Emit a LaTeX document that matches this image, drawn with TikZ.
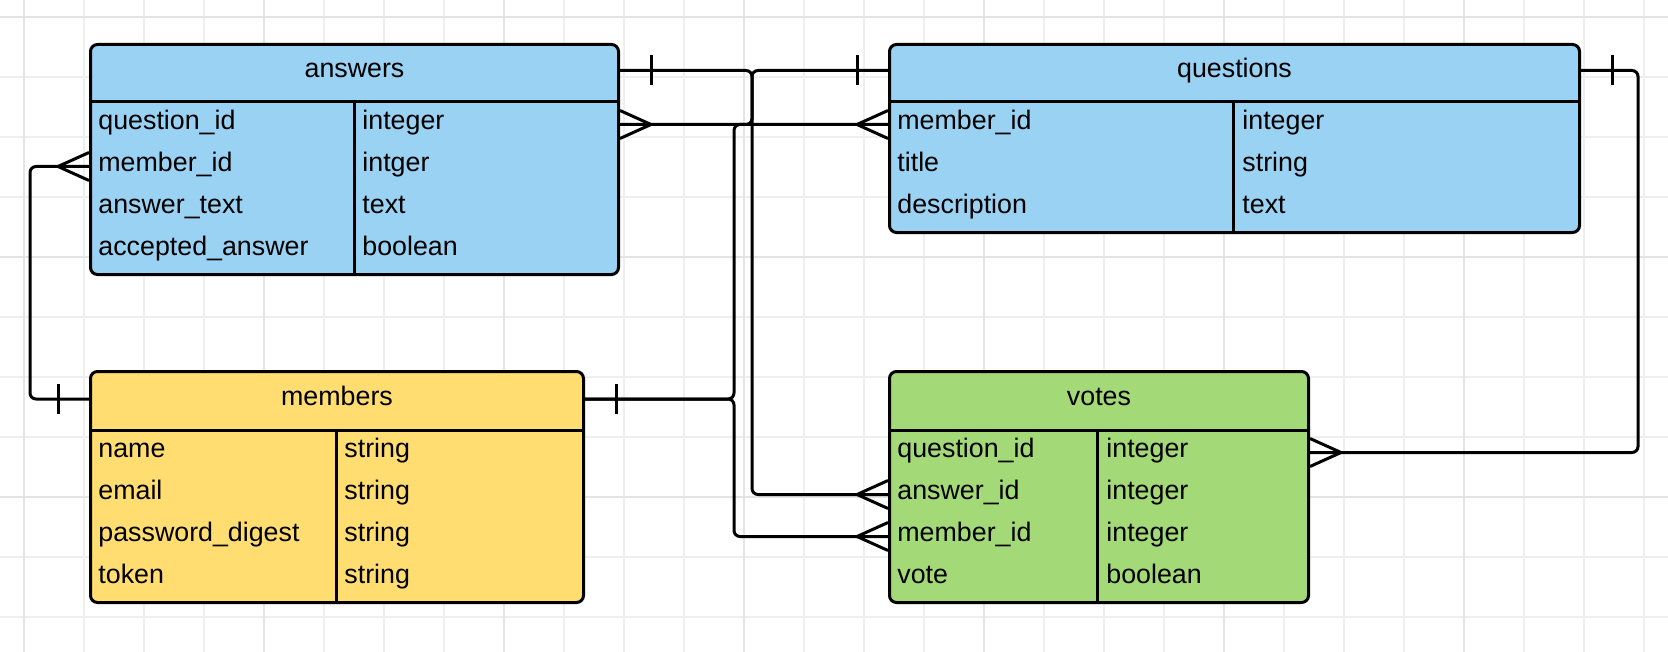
\documentclass[tikz,border=0pt]{standalone}
\usepackage{fontspec}
\setmainfont{Liberation Sans}
\usetikzlibrary{calc,decorations.markings}
\definecolor{tblue}{RGB}{154,210,243}
\definecolor{tyellow}{RGB}{255,221,113}
\definecolor{tgreen}{RGB}{164,217,120}
\definecolor{gminor}{RGB}{239,239,239}
\definecolor{gmajor}{RGB}{228,228,228}

\begin{document}
\begin{tikzpicture}[
  x=0.5pt,y=-0.5pt,
  font=\fontsize{13.4}{16}\selectfont,
  tbl/.style={draw=black,line width=1.5pt,rounded corners=3.5pt,
              anchor=north west,inner sep=0pt},
  head/.style={inner sep=0pt,text height=9.6pt,text depth=2.8pt},
  field/.style={anchor=west,inner sep=0pt,text height=9.6pt,text depth=4.8pt},
  rule/.style={line width=1.5pt},
  conn/.style={line width=1.5pt,rounded corners=3pt},
  mk/.style={line width=1.5pt,sharp corners},
  one start/.style={postaction={decorate,decoration={markings,
      mark=at position 15.5pt with {\draw[mk] (0,-15) -- (0,15);}}}},
  one end/.style={postaction={decorate,decoration={markings,
      mark=at position -15.5pt with {\draw[mk] (0,-15) -- (0,15);}}}},
  many start/.style={postaction={decorate,decoration={markings,
      mark=at position 0 with {\draw[mk] (0,-14) -- (31,0) -- (0,14);}}}},
  many end/.style={postaction={decorate,decoration={markings,
      mark=at position 1 with {\draw[mk] (0,-14) -- (-31,0) -- (0,14);}}}},
  ]
  \useasboundingbox[fill=white] (0,0) rectangle (1668,652);
  % grid
  \foreach \x in {24,84,...,1644} \draw[gminor,line width=0.6pt] (\x,0) -- (\x,652);
  \foreach \y in {17,77,...,617} \draw[gminor,line width=0.6pt] (0,\y) -- (1668,\y);
  \foreach \x in {24,264,...,1464} \draw[gmajor,line width=0.6pt] (\x,0) -- (\x,652);
  \foreach \y in {17,257,497} \draw[gmajor,line width=0.6pt] (0,\y) -- (1668,\y);

  % answers
  \node[tbl,fill=tblue,minimum width=264pt,minimum height=115pt] (answers) at (89,43) {};
  \node[head] (ans-h) at ($(answers.north)+(0,27.5)$) {answers};
  \draw[rule] ($(answers.north west)+(0,59)$) -- ($(answers.north east)+(0,59)$);
  \draw[rule] (354,102) -- (354,273);
  \foreach \f/\t [count=\i] in {question\_id/integer,member\_id/intger,
                                answer\_text/text,accepted\_answer/boolean}{
    \node[field] (ans-\i)  at (98,{102+42*\i-19.5})  {\f};
    \node[field] (ans-t\i) at (362,{102+42*\i-19.5}) {\t};
  }

  % questions
  \node[tbl,fill=tblue,minimum width=345pt,minimum height=94pt] (questions) at (888,43) {};
  \node[head] (que-h) at ($(questions.north)+(0,27.5)$) {questions};
  \draw[rule] ($(questions.north west)+(0,59)$) -- ($(questions.north east)+(0,59)$);
  \draw[rule] (1233,102) -- (1233,231);
  \foreach \f/\t [count=\i] in {member\_id/integer,title/string,description/text}{
    \node[field] (que-\i)  at (897,{102+42*\i-19.5})  {\f};
    \node[field] (que-t\i) at (1242,{102+42*\i-19.5}) {\t};
  }

  % members
  \node[tbl,fill=tyellow,minimum width=246.5pt,minimum height=115.5pt] (members) at (89,370) {};
  \node[head] (mem-h) at ($(members.north)+(0,29)$) {members};
  \draw[rule] ($(members.north west)+(0,60)$) -- ($(members.north east)+(0,60)$);
  \draw[rule] (336,430) -- (336,601);
  \foreach \f/\t [count=\i] in {name/string,email/string,
                                password\_digest/string,token/string}{
    \node[field] (mem-\i)  at (98,{430+42*\i-19.5})  {\f};
    \node[field] (mem-t\i) at (344,{430+42*\i-19.5}) {\t};
  }

  % votes
  \node[tbl,fill=tgreen,minimum width=209.5pt,minimum height=115.5pt] (votes) at (888,370) {};
  \node[head] (vot-h) at ($(votes.north)+(0,29)$) {votes};
  \draw[rule] ($(votes.north west)+(0,60)$) -- ($(votes.north east)+(0,60)$);
  \draw[rule] (1097,430) -- (1097,601);
  \foreach \f/\t [count=\i] in {question\_id/integer,answer\_id/integer,
                                member\_id/integer,vote/boolean}{
    \node[field] (vot-\i)  at (897,{430+42*\i-19.5})  {\f};
    \node[field] (vot-t\i) at (1106,{430+42*\i-19.5}) {\t};
  }

  % routing columns
  \coordinate (busL) at (30,0);
  \coordinate (busM) at (734,0);
  \coordinate (busA) at (752,0);
  \coordinate (busQ) at (1638,0);

  % relations
  \draw[conn,many start,one end] (answers.east |- ans-1) -- (busA |- ans-1)
    -- (busA |- que-h) -- (questions.west |- que-h);
  \draw[conn,one start,many end] (answers.east |- ans-h) -- (busA |- ans-h)
    -- (busA |- vot-2) -- (votes.west |- vot-2);
  \draw[conn,one start,many end] (members.east |- mem-h) -- (busM |- mem-h)
    -- (busM |- que-1) -- (questions.west |- que-1);
  \draw[conn,one start,many end] (members.east |- mem-h) -- (busM |- mem-h)
    -- (busM |- vot-3) -- (votes.west |- vot-3);
  \draw[conn,one start,many end] (questions.east |- que-h) -- (busQ |- que-h)
    -- (busQ |- vot-1) -- (votes.east |- vot-1);
  \draw[conn,one start,many end] (members.west |- mem-h) -- (busL |- mem-h)
    -- (busL |- ans-2) -- (answers.west |- ans-2);
\end{tikzpicture}
\end{document}
